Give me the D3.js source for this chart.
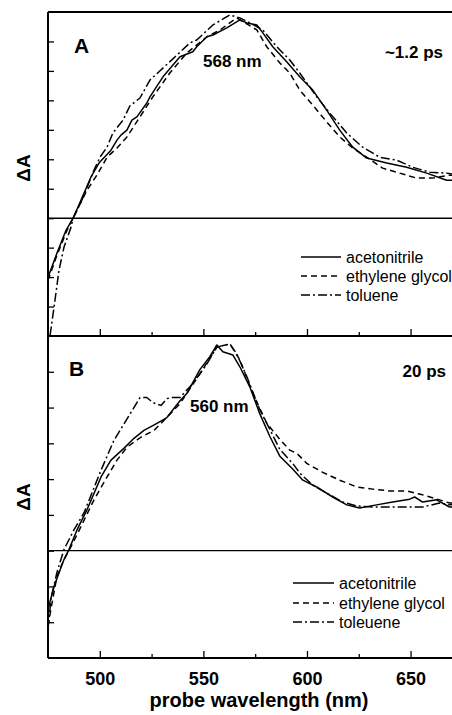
<!DOCTYPE html>
<html>
<head>
<meta charset="utf-8">
<script src="https://cdn.jsdelivr.net/npm/d3@7"></script>
<style>
  html, body { margin: 0; padding: 0; background: #fff; }
  svg { display: block; }
  text { font-family: "Liberation Sans", Arial, Helvetica, sans-serif; fill: #000; }
</style>
</head>
<body>
<script>
// ---------- DATA ----------
// wavelength (nm), deltaA (arbitrary units, one unit per y tick)
const seriesNames = ["acetonitrile", "ethylene glycol", "toluene"];
const seriesNamesB = ["acetonitrile", "ethylene glycol", "toleuene"];

const acetonitrileA = [[475,-2.01],[479.3,-1.19],[483.7,-0.41],[487.1,0],[490.9,0.61],[495.7,1.39],[499.6,1.87],[505.4,2.31],[508.3,2.65],[510.2,2.82],[513.1,2.99],[515.5,3.33],[517.9,3.44],[522.7,3.91],[524.2,4.12],[530.5,4.8],[538.7,5.48],[544.9,5.65],[546.8,5.82],[551.7,6.16],[554.6,6.22],[561.3,6.46],[567.6,6.73],[571,6.63],[575.8,6.56],[578.7,6.29],[583.5,5.82],[590.2,5.31],[596.5,4.8],[602.8,4.35],[609.5,3.67],[615.8,2.99],[622.1,2.41],[628.8,2.04],[638.5,1.87],[648.1,1.73],[657.8,1.53],[667.4,1.29],[670,1.29]];
const ethyleneGlycolA = [[475,-2.11],[479.3,-1.26],[484.2,-0.41],[487.1,0],[491.4,0.61],[493.8,0.95],[498.6,1.46],[503.5,2.07],[508.3,2.38],[513.1,2.76],[519.4,3.44],[525.6,4.12],[533.8,4.93],[542,5.61],[551.7,6.16],[558,6.39],[566.1,6.8],[575.8,6.39],[580.6,5.82],[586.9,5.27],[591.7,4.93],[596.5,4.35],[602.8,3.84],[609.5,3.27],[615.8,2.76],[622.1,2.38],[628.8,2.07],[636.5,1.7],[644.7,1.53],[652.9,1.36],[660.6,1.36],[668.8,1.46],[670,1.46]];
const tolueneA = [[476,-3.98],[477.9,-3.03],[480.3,-1.77],[482.7,-0.99],[486.1,-0.31],[487.1,0],[490.9,0.54],[497.2,1.63],[500.1,2.07],[503.5,2.41],[506.3,2.89],[511.2,3.33],[514.5,3.81],[519.4,4.08],[524.2,4.69],[535.3,5.41],[543.5,5.95],[546.8,6.05],[554.6,6.56],[562.8,6.9],[567.6,6.8],[572.4,6.63],[578.7,6.39],[585.4,5.82],[591.7,5.37],[596.5,4.93],[604.7,4.12],[611,3.57],[619.2,2.89],[626.9,2.41],[635.1,2.07],[643.3,1.97],[651,1.73],[659.2,1.56],[667.4,1.53],[670,1.5]];

const acetonitrileB = [[475,-1.64],[477.9,-1.0],[482.7,-0.25],[485.1,0.03],[489,0.58],[493.8,1.14],[500.6,2.06],[505.4,2.53],[511.6,2.86],[516.5,3.14],[521.3,3.36],[527.6,3.56],[532.4,3.72],[538.7,4.19],[542,4.39],[548.3,5.06],[553.1,5.42],[556.5,5.75],[559.4,5.56],[564.2,5.47],[567.6,5.14],[572.4,4.58],[577.2,3.83],[582.1,3.19],[586.9,2.64],[593.1,2.28],[598,1.97],[604.7,1.78],[612.4,1.5],[619.2,1.28],[625.4,1.19],[633.6,1.28],[641.4,1.36],[649.6,1.44],[652,1.5],[655.8,1.36],[662.6,1.42],[668.8,1.22],[670,1.22]];
const ethyleneGlycolB = [[475,-2.11],[476.4,-1.64],[479.3,-0.72],[482.7,-0.25],[486.1,0.11],[490.9,0.67],[497.2,1.42],[503.5,2.06],[508.3,2.53],[513.1,2.89],[519.8,3.17],[526.1,3.36],[530.9,3.64],[538.7,4.11],[548.3,4.94],[556.5,5.69],[562.8,5.78],[567.6,5.33],[573.9,4.39],[580.6,3.56],[586.9,3.11],[591.7,2.81],[595.1,2.72],[599.9,2.44],[607.6,2.19],[615.8,1.97],[624,1.78],[631.7,1.72],[639.9,1.67],[648.1,1.67],[655.8,1.56],[664,1.42],[668.8,1.33],[670,1.33]];
const tolueneB = [[475,-2.19],[476.4,-1.36],[479.3,-0.61],[482.7,0.03],[487.5,0.58],[492.4,1.06],[500.6,2.25],[506.8,3.08],[515,3.86],[519.4,4.28],[522.7,4.28],[525.6,4.14],[529.5,4.06],[532.4,4.25],[534.8,4.28],[538.7,4.28],[544.9,4.67],[551.7,5.22],[556.5,5.69],[562.8,5.78],[566.1,5.5],[571,4.86],[577.2,3.94],[582.1,3.39],[586.9,2.83],[593.1,2.44],[596.5,2.17],[602.8,1.83],[611,1.56],[617.3,1.36],[624,1.25],[631.7,1.22],[639.9,1.22],[648.1,1.22],[655.8,1.22],[664,1.33],[668.8,1.28],[670,1.28]];

const xMajorTicks = [500, 550, 600, 650];
const xMinorTicks = [525, 575, 625];
const yTicksA = [-3, -2, -1, 0, 1, 2, 3, 4, 5, 6];
const yTicksB = [-2, -1, 0, 1, 2, 3, 4, 5];

// ---------- LAYOUT ----------
const W = 452, H = 715;
const L = 48, R = 452;
const panelA = { top: 12, bottom: 336, domain: [-4, 7], label: "A", time: "~1.2 ps", peak: "568 nm",
  series: [acetonitrileA, ethyleneGlycolA, tolueneA], names: seriesNames, ticks: yTicksA,
  labelPos: [74, 53], timePos: [443, 58], timeLen: 60, peakPos: [203, 67], peakLen: 61,
  legend: { x1: 301, x2: 341, tx: 346, ys: [257, 276, 295] } };
const panelB = { top: 336, bottom: 658, domain: [-3, 6], label: "B", time: "20 ps", peak: "560 nm",
  series: [acetonitrileB, ethyleneGlycolB, tolueneB], names: seriesNamesB, ticks: yTicksB,
  labelPos: [69, 376], timePos: [446, 377], timeLen: 51, peakPos: [190, 412], peakLen: 61,
  legend: { x1: 293, x2: 334, tx: 339, ys: [583, 603, 622] } };

const dashes = [null, "6,4", "9,3,2,3"];

const svg = d3.select("body").append("svg").attr("width", W).attr("height", H);
const x = d3.scaleLinear().domain([475, 670]).range([L, R]);

svg.append("defs").selectAll("clipPath").data([panelA, panelB]).join("clipPath")
  .attr("id", (d, i) => "clip" + i)
  .append("rect").attr("x", L).attr("y", d => d.top).attr("width", R - L).attr("height", d => d.bottom - d.top);

[panelA, panelB].forEach((p, pi) => {
  const y = d3.scaleLinear().domain(p.domain).range([p.bottom, p.top]);
  const g = svg.append("g");

  // zero line
  g.append("line").attr("x1", L).attr("x2", R).attr("y1", y(0)).attr("y2", y(0))
    .attr("stroke", "#000").attr("stroke-width", 1.4);

  // y ticks (inward)
  const yAxis = d3.axisLeft(y).tickValues(p.ticks).tickSize(-6).tickFormat("");
  const ya = g.append("g").attr("transform", `translate(${L},0)`).call(yAxis);
  ya.select(".domain").remove();
  ya.selectAll(".tick line").attr("stroke", "#000").attr("stroke-width", 1.3);

  // x ticks at bottom (inward)
  const xa = g.append("g").attr("transform", `translate(0,${p.bottom})`)
    .call(d3.axisBottom(x).tickValues(xMajorTicks).tickSize(-7).tickFormat(pi === 1 ? d3.format("d") : ""));
  xa.select(".domain").remove();
  xa.selectAll(".tick line").attr("stroke", "#000").attr("stroke-width", 1.3);
  const xm = g.append("g").attr("transform", `translate(0,${p.bottom})`)
    .call(d3.axisBottom(x).tickValues(xMinorTicks).tickSize(-4).tickFormat(""));
  xm.select(".domain").remove();
  xm.selectAll(".tick line").attr("stroke", "#000").attr("stroke-width", 1.3);
  if (pi === 1) {
    xa.selectAll(".tick text").attr("y", 14).attr("dy", "0.71em")
      .style("font-size", "18px").style("font-weight", "bold").style("font-family", "Liberation Sans, Arial, sans-serif")
      .attr("fill", "#000");
  }

  // curves
  const line = d3.line().x(d => x(d[0])).y(d => y(d[1]));
  g.append("g").attr("clip-path", `url(#clip${pi})`).selectAll("path").data(p.series).join("path")
    .attr("d", line).attr("fill", "none").attr("stroke", "#000").attr("stroke-width", 1.5)
    .attr("stroke-linejoin", "round")
    .attr("stroke-dasharray", (d, i) => dashes[i]);

  // frame: top and bottom, left axis
  g.append("line").attr("x1", L).attr("x2", R).attr("y1", p.top).attr("y2", p.top).attr("stroke", "#000").attr("stroke-width", 2);
  g.append("line").attr("x1", L).attr("x2", R).attr("y1", p.bottom).attr("y2", p.bottom).attr("stroke", "#000").attr("stroke-width", 2);
  g.append("line").attr("x1", L).attr("x2", L).attr("y1", p.top).attr("y2", p.bottom).attr("stroke", "#000").attr("stroke-width", 2);

  // panel label
  g.append("text").attr("x", p.labelPos[0]).attr("y", p.labelPos[1]).text(p.label)
    .style("font-size", "21px").style("font-weight", "bold");
  g.append("text").attr("x", p.timePos[0]).attr("y", p.timePos[1]).attr("text-anchor", "end").text(p.time)
    .style("font-size", "17px").style("font-weight", "bold");
  g.append("text").attr("x", p.peakPos[0]).attr("y", p.peakPos[1]).text(p.peak)
    .style("font-size", "17px").style("font-weight", "bold");

  // y title
  g.append("text").attr("transform", `translate(30,${(p.top + p.bottom) / 2 + (pi === 0 ? -6 : 0)}) rotate(-90)`)
    .attr("text-anchor", "middle").text("ΔA").style("font-size", "19px").style("font-weight", "bold");

  // legend
  const lg = g.append("g");
  p.names.forEach((n, i) => {
    const ly = p.legend.ys[i];
    lg.append("line").attr("x1", p.legend.x1).attr("x2", p.legend.x2).attr("y1", ly).attr("y2", ly)
      .attr("stroke", "#000").attr("stroke-width", 1.5).attr("stroke-dasharray", dashes[i]);
    lg.append("text").attr("x", p.legend.tx).attr("y", ly + 5.5).text(n).style("font-size", "16px");
  });
});

// x title
svg.append("text").attr("x", 259).attr("y", 707).attr("text-anchor", "middle")
  .text("probe wavelength (nm)").style("font-size", "20px").style("font-weight", "bold");
</script>
</body>
</html>
